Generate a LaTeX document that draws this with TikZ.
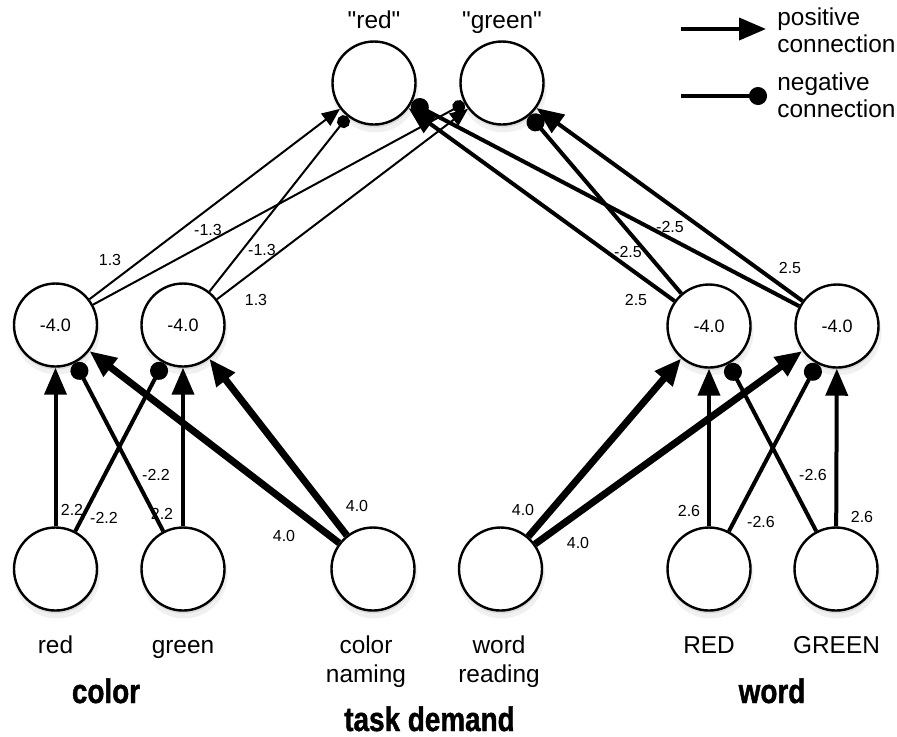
\documentclass[tikz,border=0pt]{standalone}
\usepackage{fontspec}
\setmainfont{Liberation Sans}
\newfontfamily\plainfont{Liberation Sans}
\newfontfamily\groupfont[FakeStretch=0.82, BoldFeatures={FakeBold=1.2}]{Liberation Sans}
\usetikzlibrary{arrows.meta,shadows}

\begin{document}
\begin{tikzpicture}[x=0.5pt, y=-0.5pt,
  unit/.style={circle, draw, line width=1.2pt, fill=white, minimum size=41.5pt, inner sep=0pt,
    drop shadow={shadow xshift=0.6pt, shadow yshift=-3pt, shadow scale=1.04, opacity=0.12},
    drop shadow={shadow xshift=0.3pt, shadow yshift=-1.5pt, opacity=0.18},
    font=\fontsize{9}{10}\selectfont},
  lbl/.style={font=\fontsize{12.2}{14.5}\selectfont, align=center, inner sep=0pt},
  legend/.style={font=\fontsize{12.2}{13.5}\selectfont, align=left, inner sep=0pt},
  grp/.style={font=\groupfont\bfseries\fontsize{17}{20}\selectfont, inner sep=0pt},
  wt/.style={font=\fontsize{8}{9}\selectfont, inner sep=0pt},
  posthin/.style={line width=1pt, -{Triangle[length=9pt, width=7.5pt]}},
  negthin/.style={line width=1pt, -{Circle[length=6.5pt]}},
  posmid/.style={line width=2pt, -{Triangle[length=13.5pt, width=11pt]}},
  negmid/.style={line width=2pt, -{Circle[length=9pt]}},
  posthick/.style={line width=3.5pt, -{Triangle[length=13.5pt, width=11pt]}},
]
  \useasboundingbox (0,0) rectangle (897,736);

  % 输出层
  \node[unit] (out-red) at (374,83) {};
  \node[unit] (out-green) at (502,83) {};
  \node[lbl, anchor=base] (txt-out-red) at (374,28) {\plainfont "red"};
  \node[lbl, anchor=base] (txt-out-green) at (502,28) {\plainfont "green"};

  % 隐藏层
  \node[unit] (hid-red) at (55.5,325) {-4.0};
  \node[unit] (hid-green) at (183,325) {-4.0};
  \node[unit] (hid-RED) at (709,326) {-4.0};
  \node[unit] (hid-GREEN) at (837,326) {-4.0};

  % 输入层
  \node[unit] (in-red) at (55.5,569) {};
  \node[unit] (in-green) at (183,569) {};
  \node[unit] (in-cn) at (373,569) {};
  \node[unit] (in-wr) at (500.5,569) {};
  \node[unit] (in-RED) at (709,569) {};
  \node[unit] (in-GREEN) at (836,569) {};

  \node[lbl, anchor=base] (txt-red) at (55.5,653) {red};
  \node[lbl, anchor=base] (txt-green) at (183,653) {green};
  \node[lbl, anchor=base] (txt-cn) at (366,682) {color\\naming};
  \node[lbl, anchor=base] (txt-wr) at (499,682) {word\\reading};
  \node[lbl, anchor=base] (txt-RED) at (709,653) {RED};
  \node[lbl, anchor=base] (txt-GREEN) at (836.5,653) {GREEN};

  \node[grp, anchor=base] (grp-color) at (106,703) {color};
  \node[grp, anchor=base] (grp-task) at (429.5,731) {task demand};
  \node[grp, anchor=base] (grp-word) at (772,703) {word};

  % 输入 -> 隐藏
  \draw[posmid] (in-red) -- (hid-red);
  \draw[negmid] (in-red) -- (hid-green);
  \draw[posmid] (in-green) -- (hid-green);
  \draw[negmid] (in-green) -- (hid-red);
  \draw[posthick] (in-cn) -- (hid-red);
  \draw[posthick] (in-cn) -- (hid-green);
  \draw[posthick] (in-wr) -- (hid-RED);
  \draw[posthick] (in-wr) -- (hid-GREEN);
  \draw[posmid] (in-RED) -- (hid-RED);
  \draw[negmid] (in-RED) -- (hid-GREEN);
  \draw[posmid] (in-GREEN) -- (hid-GREEN);
  \draw[negmid] (in-GREEN) -- (hid-RED);

  % 隐藏 -> 输出
  \draw[posthin] (hid-red) -- (out-red);
  \draw[negthin] (hid-red) -- (out-green);
  \draw[negthin] (hid-green) -- (out-red);
  \draw[posthin] (hid-green) -- (out-green);
  \draw[posmid] (hid-RED) -- (out-red);
  \draw[negmid] (hid-RED) -- (out-green);
  \draw[negmid] (hid-GREEN) -- (out-red);
  \draw[posmid] (hid-GREEN) -- (out-green);

  % 权重
  \node[wt] (w-rr) at (72,510) {2.2};
  \node[wt] (w-rg) at (104,518) {-2.2};
  \node[wt] (w-gg) at (162,514) {2.2};
  \node[wt] (w-gr) at (156,475) {-2.2};
  \node[wt] (w-cnr) at (284,536) {4.0};
  \node[wt] (w-cng) at (357,506) {4.0};
  \node[wt] (w-wr3) at (523,510) {4.0};
  \node[wt] (w-wr4) at (578,543) {4.0};
  \node[wt] (w-RR) at (689,511) {2.6};
  \node[wt] (w-RG) at (761,522) {-2.6};
  \node[wt] (w-GR) at (813,475) {-2.6};
  \node[wt] (w-GG) at (862,517) {2.6};
  \node[wt] (w-h1r) at (110,260) {1.3};
  \node[wt] (w-h1g) at (208,230) {-1.3};
  \node[wt] (w-h2r) at (262,250) {-1.3};
  \node[wt] (w-h2g) at (256,300) {1.3};
  \node[wt] (w-h3r) at (636,300) {2.5};
  \node[wt] (w-h3g) at (628,252) {-2.5};
  \node[wt] (w-h4r) at (670,227) {-2.5};
  \node[wt] (w-h4g) at (790,268) {2.5};

  % 图例
  \coordinate (leg-pos-a) at (681,29);
  \coordinate (leg-pos-b) at (766,29);
  \coordinate (leg-neg-a) at (681,96);
  \coordinate (leg-neg-b) at (767,96);
  \draw[posmid] (leg-pos-a) -- (leg-pos-b);
  \draw[negmid] (leg-neg-a) -- (leg-neg-b);
  \node[legend, anchor=base west] (leg-pos) at (777,52) {positive\\connection};
  \node[legend, anchor=base west] (leg-neg) at (777,117) {negative\\connection};
\end{tikzpicture}
\end{document}
